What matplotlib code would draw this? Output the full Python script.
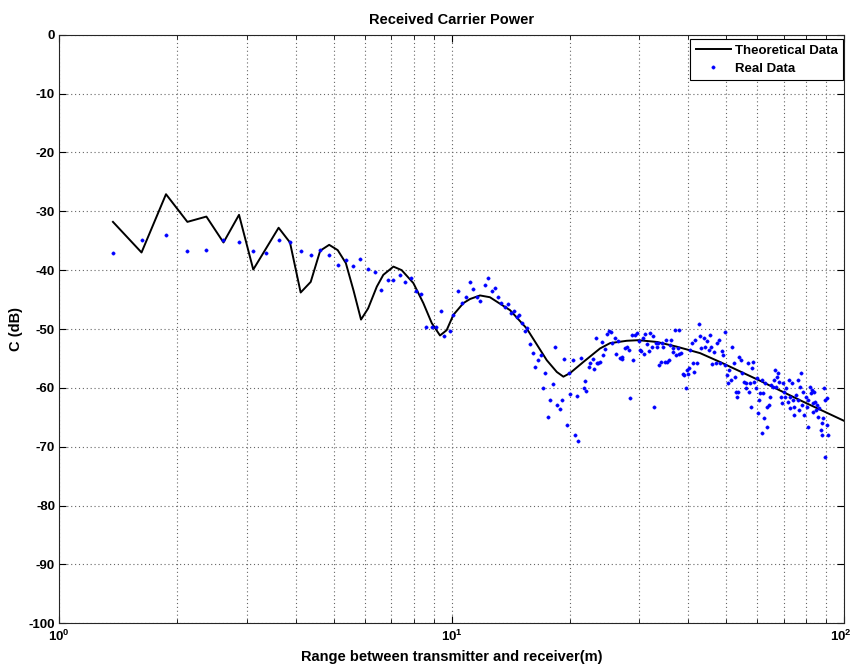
import matplotlib
matplotlib.use("Agg")
import matplotlib.pyplot as plt
import matplotlib.transforms as mtransforms
from matplotlib.ticker import FixedLocator, NullFormatter

plt.rcParams['font.family'] = ['Liberation Sans', 'DejaVu Sans']
plt.rcParams['axes.unicode_minus'] = False
plt.rcParams['mathtext.fontset'] = 'custom'
plt.rcParams['mathtext.rm'] = 'Liberation Sans'
plt.rcParams['mathtext.bf'] = 'Liberation Sans:bold'
plt.rcParams['mathtext.default'] = 'bf'

title = "Received Carrier Power"
xlabel = "Range between transmitter and receiver(m)"
ylabel = "C (dB)"
legend_labels = ["Theoretical Data", "Real Data"]

xticks = [1, 10, 100]
xtick_labels = [r"$10^{0}$", r"$10^{1}$", r"$10^{2}$"]
yticks = [-100, -90, -80, -70, -60, -50, -40, -30, -20, -10, 0]

theory_range = [1.37, 1.62, 1.87, 2.12, 2.37, 2.62, 2.87, 3.12, 3.62, 3.87,
                4.12, 4.37, 4.62, 4.87, 5.12, 5.37, 5.62, 5.87, 6.12, 6.44,
                6.69, 7.10, 7.45, 7.98, 8.46, 8.89, 9.33, 9.70, 10.09, 10.70,
                11.13, 11.80, 12.5, 14.07, 15.51, 17.45, 18.51, 19.24, 20.0, 21.63,
                23.86, 25.3, 27.9, 29.9, 33.3, 37.4, 42.9, 48.2, 61.0, 77.1, 99.8]
theory_c = [-31.8, -37.0, -27.1, -31.8, -30.9, -35.3, -30.6, -39.9, -32.8, -35.3,
            -43.8, -42.0, -36.7, -35.7, -36.6, -38.8, -43.5, -48.4, -46.5, -42.8,
            -40.8, -39.4, -40.0, -42.2, -45.6, -49.0, -51.1, -50.2, -47.6, -45.6,
            -44.9, -44.3, -44.6, -46.8, -49.9, -55.3, -57.3, -58.1, -57.5, -55.6,
            -53.3, -52.4, -52.0, -51.9, -52.2, -53.0, -54.1, -55.6, -58.8, -62.1, -65.6]

real_range = [1.37, 1.62, 1.87, 2.12, 2.37, 2.62, 2.87, 3.12, 3.37, 3.62, 3.87,
              4.12, 4.37, 4.62, 4.87, 5.12, 5.37, 5.61, 5.85, 6.11, 6.38, 6.61,
              6.88, 7.10, 7.38, 7.61, 7.87, 8.12, 8.36, 8.60, 8.89, 9.11, 9.37,
              9.55, 9.88, 10.09, 10.35, 10.60, 10.85, 11.1, 11.34, 11.57, 11.80,
              12.12, 12.37, 12.62, 12.87, 13.12, 13.37, 13.62, 13.87, 14.12, 14.37, 14.62,
              14.83, 15.12, 15.32, 15.52, 15.85, 16.07, 16.3, 16.6, 16.85, 17.3,
              17.1, 17.6, 17.8, 18.05, 18.35, 18.55, 18.87, 19.05, 19.3, 19.6,
              19.9, 20.05, 20.3, 20.55, 20.8, 21.0, 21.35, 21.65, 21.8, 22.0,
              22.3, 22.55, 22.85, 23.05, 23.25, 23.4, 23.6,
              23.85, 24.1, 24.3, 24.55, 24.8, 25.1, 25.4, 25.6, 26.0, 26.25,
              26.5, 26.8, 27.1, 27.2, 27.6, 27.9, 28.3, 28.45, 28.8, 29.0,
              29.3, 29.6, 29.9, 30.1, 30.4, 30.6, 30.8, 31.1, 31.4, 31.8,
              32.0, 32.3, 32.6, 32.8, 33.1, 33.3, 33.6, 33.8, 34.1, 34.3,
              34.6, 34.9, 35.2, 35.3, 35.7, 35.9, 36.2, 36.5, 36.7, 37.1,
              37.3, 37.6, 37.8, 38.0, 38.3, 38.7, 39.1, 39.5, 39.7, 39.9,
              40.2, 40.4, 40.9, 41.1, 41.5, 41.7, 42.1, 42.5, 42.8, 43.2,
              43.8, 44.2, 44.7, 45.1, 45.4, 45.8, 46.0, 46.5, 47.0, 47.4,
              47.9, 48.1,
              48.7, 49.2, 49.7, 49.7, 50.2, 50.4, 50.8, 51.3, 51.7, 52.2,
              52.7, 52.9, 53.4, 53.7, 54.0, 54.5, 54.8, 55.4, 56.0, 56.3,
              56.7, 57.1, 57.4, 57.7, 58.1, 58.6, 59.0, 59.5, 59.9, 60.4,
              60.7, 61.0, 61.6, 61.8, 62.2, 62.4, 62.8, 63.4, 63.7, 64.2,
              64.7, 65.1, 65.6, 66.0, 66.6, 67.0, 67.3, 67.9, 68.3, 68.9,
              69.3, 69.7, 70.3, 70.7, 71.1, 71.7, 72.2, 72.6, 72.7, 73.5,
              73.9, 74.2, 74.6, 75.4, 76.0, 76.4, 76.8, 77.1, 77.6, 78.2,
              78.6, 79.1, 79.8, 80.2, 80.7, 81.0, 81.5, 82.1, 82.6, 83.1,
              83.4, 83.9, 84.4, 84.8, 85.4, 85.9, 86.4, 87.2, 87.8, 87.9,
              88.3, 88.6, 89.1, 89.5, 90.1, 90.5, 91.0]
real_c = [-37.1, -34.8, -34.0, -36.7, -36.6, -34.8, -35.2, -36.7, -37.1, -34.8, -35.2,
          -36.7, -37.5, -36.6, -37.4, -39.2, -38.2, -39.3, -38.1, -39.8, -40.4, -43.4,
          -41.7, -41.7, -40.8, -42.0, -41.3, -43.5, -44.1, -49.7, -49.7, -49.6, -46.9,
          -51.2, -50.3, -47.7, -43.6, -45.6, -44.5, -42.0, -43.2, -44.5, -45.2,
          -42.5, -41.3, -43.5, -43.0, -44.5, -45.5, -46.3, -45.8, -47.3, -46.9, -48.0,
          -47.7, -48.9, -50.3, -49.9, -52.5, -54.0, -56.4, -55.3, -54.5, -57.5,
          -60.1, -65.0, -62.1, -59.3, -53.1, -62.9, -63.6, -62.1, -55.1, -66.3,
          -57.4, -61.0, -55.3, -68.0, -61.4, -69.1, -55.0, -60.1, -58.8, -60.6,
          -56.5, -55.7, -55.1, -56.8, -51.6, -55.8, -55.7,
          -55.6, -52.2, -54.4, -53.4, -50.8, -50.3, -50.5, -52.3, -51.6, -54.3,
          -52.0, -55.0, -54.7, -55.1, -53.3, -53.0, -53.6, -61.7, -51.0, -55.3,
          -51.1, -50.7, -52.0, -53.6, -53.7, -51.6, -54.3, -50.9, -52.5, -53.7,
          -50.7, -53.0, -51.2, -63.2, -52.4, -53.0, -52.3, -56.2, -55.6, -52.3,
          -53.0, -55.6, -51.9, -55.6, -55.3, -52.7, -51.8, -53.3, -53.9, -50.2,
          -54.4, -53.2, -54.2, -50.2, -54.1, -57.6, -57.8, -60.1, -57.0, -57.6,
          -56.7, -53.6, -52.4, -55.8, -57.3, -51.8, -55.8, -49.2, -51.2, -53.3,
          -51.6, -53.0, -52.0, -53.6, -51.0, -53.0, -55.9, -53.9, -55.7, -52.4,
          -51.9, -55.8,
          -53.7, -54.4, -50.5, -56.1, -57.8, -59.2, -57.0, -58.7, -53.0, -55.8,
          -58.1, -60.7, -61.5, -60.7, -54.7, -55.3, -57.5, -59.0, -60.1, -59.2,
          -55.8, -60.7, -59.2, -63.2, -56.7, -55.6, -59.0, -60.1, -58.4, -64.3,
          -62.1, -60.9, -58.7, -67.7, -60.9, -65.2, -59.2, -63.2, -66.6, -62.9,
          -61.5, -59.5, -59.8, -58.7, -57.0, -59.8, -58.1, -57.5, -59.0, -61.5,
          -62.6, -59.2, -60.7, -61.5, -60.1, -62.4, -58.7, -63.5, -61.5, -59.2,
          -62.1, -64.6, -63.2, -61.2, -62.1, -58.7, -63.8, -59.8, -57.5, -62.9,
          -60.7, -64.6, -61.5, -63.2, -66.6, -62.1, -59.8, -60.9, -60.4, -62.6,
          -64.1, -60.7, -62.4, -63.8, -62.9, -64.9, -63.5, -67.2, -66.0, -68.0,
          -65.2, -60.1, -62.1, -71.7, -66.3, -61.8, -68.0]

fig = plt.figure(figsize=(8.53, 6.66), dpi=100)
ax = fig.add_axes([0.0695, 0.0641, 0.9204, 0.8838])

ax.plot(theory_range, theory_c, color='k', lw=1.4, label=legend_labels[0], zorder=3)
ax.plot(real_range, real_c, ls='none', marker='o', ms=2.4, mfc='#0000ff', mec='#0000ff',
        mew=0.3, label=legend_labels[1], zorder=4)

ax.set_xscale('log')
ax.set_xlim(1, 100)
ax.set_ylim(-100, 0)
ax.set_xticks(xticks)
ax.set_xticklabels(xtick_labels)
ax.xaxis.set_minor_locator(FixedLocator([m * d for d in (1, 10) for m in range(2, 10)]))
ax.xaxis.set_minor_formatter(NullFormatter())
ax.set_yticks(yticks)
ax.set_yticklabels([str(v) for v in yticks])

grid_style = dict(color='0.4', linestyle=(0, (1, 2.5)), linewidth=0.8)
ax.grid(True, which='major', **grid_style)
ax.grid(True, which='minor', axis='x', **grid_style)

ax.tick_params(which='both', direction='in', top=True, right=True, labelsize=9.5)
ax.tick_params(which='major', length=5, width=0.8)
ax.tick_params(which='minor', length=3, width=0.6)
ax.tick_params(axis='x', pad=4)
ax.tick_params(axis='y', pad=3)
for lab in ax.get_yticklabels():
    lab.set_fontweight('bold')
for s in ax.spines.values():
    s.set_linewidth(0.8)
    s.set_color('0.15')

# nudge the last x tick label so it stays inside the figure
last = ax.get_xticklabels()[-1]
last.set_transform(last.get_transform() +
                   mtransforms.ScaledTranslation(-4 / 100, 0, fig.dpi_scale_trans))

ax.set_title(title, fontsize=10.5, fontweight='bold', pad=8)
ax.set_xlabel(xlabel, fontsize=10.5, fontweight='bold', labelpad=4)
ax.set_ylabel(ylabel, fontsize=10.5, fontweight='bold', labelpad=4)

leg = ax.legend(loc='upper right', bbox_to_anchor=(0.9987, 0.9922), borderaxespad=0,
                fancybox=False, framealpha=1, edgecolor='k', fontsize=9.5,
                handlelength=2.7, handletextpad=0.3, borderpad=0.4, labelspacing=0.45,
                markerscale=1.0)
leg.get_frame().set_linewidth(0.8)
for t in leg.get_texts():
    t.set_fontweight('bold')

fig.savefig('out.png', dpi=100)
